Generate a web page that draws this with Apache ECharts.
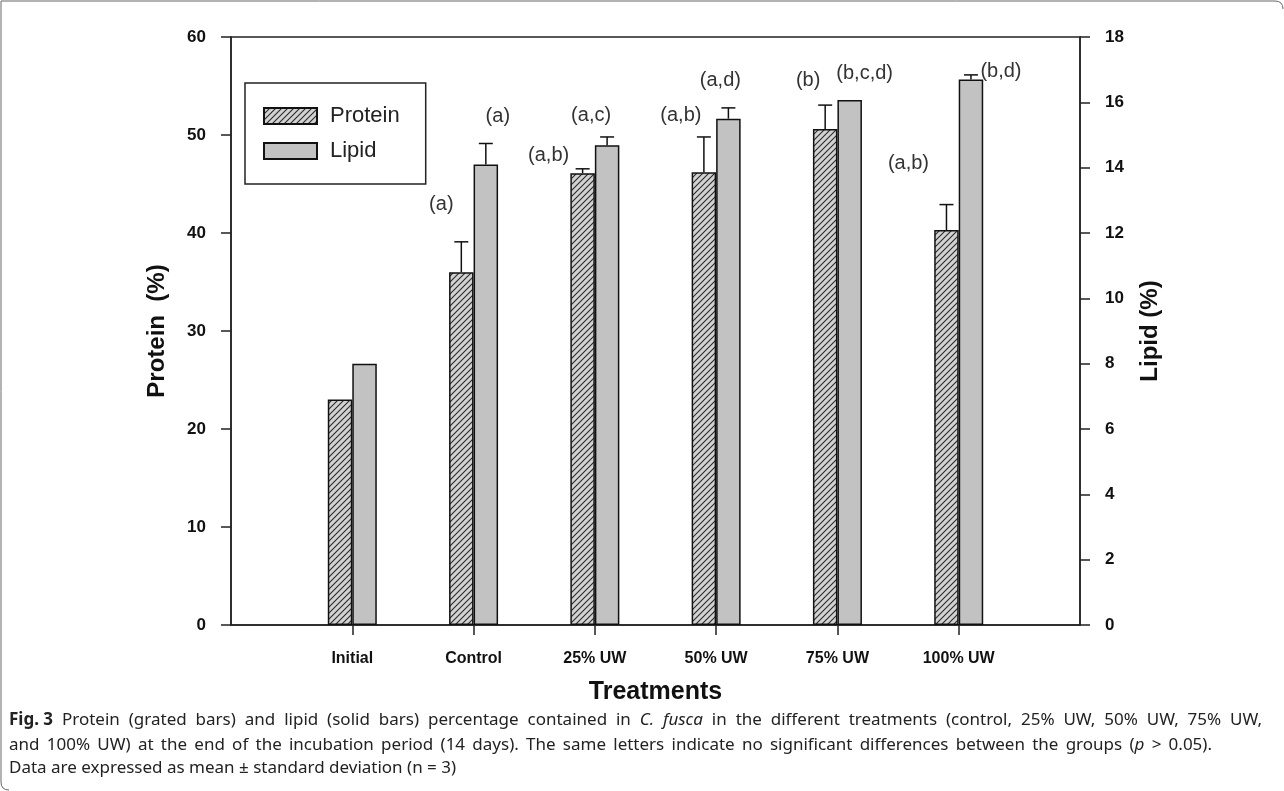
<!DOCTYPE html>
<html>
<head>
<meta charset="utf-8">
<script src="https://cdn.jsdelivr.net/npm/echarts@6/dist/echarts.min.js"></script>
<style>
html,body{margin:0;padding:0;background:#fff;}
#chart{width:1284px;height:791px;}
</style>
</head>
<body>
<div id="chart"></div>
<script>
// ---------------- data ----------------
const categories = ['Initial', 'Control', '25% UW', '50% UW', '75% UW', '100% UW'];
const protein    = [23.0, 36.0, 46.1, 46.2, 50.6, 40.3];
const proteinSD  = [0, 3.1, 0.45, 3.6, 2.45, 2.6];
const lipid      = [8.0, 14.1, 14.69, 15.5, 16.07, 16.7];
const lipidSD    = [0, 0.64, 0.25, 0.33, 0, 0.14];
const proteinLetters = ['', '(a)', '(a,b)', '(a,b)', '(b)', '(a,b)'];
const lipidLetters   = ['', '(a)', '(a,c)', '(a,d)', '(b,c,d)', '(b,d)'];
const leftAxis  = { min: 0, max: 60, interval: 10 };
const rightAxis = { min: 0, max: 18, interval: 2 };

// caption words: each word is a list of [style, text] parts (n normal, b bold, i italic)
const captionLines = [
  [[['b', 'Fig.\u00a03']], [['n', 'Protein']], [['n', '(grated']], [['n', 'bars)']], [['n', 'and']], [['n', 'lipid']], [['n', '(solid']], [['n', 'bars)']],
   [['n', 'percentage']], [['n', 'contained']], [['n', 'in']], [['i', 'C.']], [['i', 'fusca']], [['n', 'in']], [['n', 'the']], [['n', 'different']],
   [['n', 'treatments']], [['n', '(control,']], [['n', '25%']], [['n', 'UW,']], [['n', '50%']], [['n', 'UW,']], [['n', '75%']], [['n', 'UW,']]],
  [[['n', 'and']], [['n', '100%']], [['n', 'UW)']], [['n', 'at']], [['n', 'the']], [['n', 'end']], [['n', 'of']], [['n', 'the']], [['n', 'incubation']],
   [['n', 'period']], [['n', '(14']], [['n', 'days).']], [['n', 'The']], [['n', 'same']], [['n', 'letters']], [['n', 'indicate']], [['n', 'no']],
   [['n', 'significant']], [['n', 'differences']], [['n', 'between']], [['n', 'the']], [['n', 'groups']], [['n', '('], ['i', 'p']], [['n', '>']], [['n', '0.05).']]],
  [[['n', 'Data']], [['n', 'are']], [['n', 'expressed']], [['n', 'as']], [['n', 'mean']], [['n', '\u00b1']], [['n', 'standard']], [['n', 'deviation']],
   [['n', '(n']], [['n', '=']], [['n', '3)']]]
];

// ---------------- layout / style ----------------
const BAR_W = 24.5;
const CAP = 7;
// letter label offsets (px) relative to bar centre / error-bar top
const protLabelOff = [[0,0], [-20,-37], [-34,-13], [-23,-21], [-17,-25], [-38,-41]];
const lipLabelOff  = [[0,0], [12,-27], [-16,-21], [-8,-27], [15,-27], [30,-3]];
const capLineY = [720, 745, 768];
const capLineRight = [1262, 1212, null];

function hatchPattern() {
  const s = 6;
  const c = document.createElement('canvas');
  c.width = s; c.height = s;
  const g = c.getContext('2d');
  g.fillStyle = '#d2d2d2';
  g.fillRect(0, 0, s, s);
  g.strokeStyle = '#2a2a2a';
  g.lineWidth = 1.1;
  g.beginPath();
  g.moveTo(0, s); g.lineTo(s, 0);
  g.moveTo(-1, 1); g.lineTo(1, -1);
  g.moveTo(s - 1, s + 1); g.lineTo(s + 1, s - 1);
  g.stroke();
  return c;
}

const xData = [''].concat(categories, ['']);
const pad = arr => ['-'].concat(arr, ['-']);

function errRender(offset) {
  return function (params, api) {
    const x = api.value(0), v = api.value(1), sd = api.value(2);
    if (!sd) return null;
    const p0 = api.coord([x, v]);
    const p1 = api.coord([x, v + sd]);
    const cx = p0[0] + offset;
    return {
      type: 'group',
      children: [
        { type: 'line', shape: { x1: cx, y1: p0[1], x2: cx, y2: p1[1] }, style: { stroke: '#111', lineWidth: 1.5 } },
        { type: 'line', shape: { x1: cx - CAP, y1: p1[1], x2: cx + CAP, y2: p1[1] }, style: { stroke: '#111', lineWidth: 1.5 } }
      ]
    };
  };
}

function letterRender(offset, letters, offs) {
  return function (params, api) {
    const i = params.dataIndex;
    const x = api.value(0), v = api.value(1), sd = api.value(2);
    const txt = letters[i];
    if (!txt) return null;
    const p = api.coord([x, v + sd]);
    return {
      type: 'text',
      x: p[0] + offset + offs[i][0],
      y: p[1] + offs[i][1],
      style: {
        text: txt, fill: '#333', fontSize: 20, fontFamily: 'Liberation Sans, Arial, sans-serif',
        align: 'center', verticalAlign: 'middle'
      }
    };
  };
}

const protErr = categories.map((c, i) => [i + 1, protein[i], proteinSD[i]]);
const lipErr  = categories.map((c, i) => [i + 1, lipid[i], lipidSD[i]]);

const FONT = 'Liberation Sans, Arial, sans-serif';
const CAP_FAMILY = '"Noto Sans", "Open Sans", sans-serif';
const CAP_SIZE = 17;
const capFonts = {
  n: CAP_SIZE + 'px ' + CAP_FAMILY,
  b: 'bold ' + CAP_SIZE + 'px ' + CAP_FAMILY,
  i: 'italic ' + CAP_SIZE + 'px ' + CAP_FAMILY
};
const measureCtx = document.createElement('canvas').getContext('2d');
function textW(font, t) { measureCtx.font = font; return measureCtx.measureText(t).width; }

function captionGraphics() {
  const out = [];
  captionLines.forEach((words, li) => {
    const widths = words.map(w => w.reduce((s, p) => s + textW(capFonts[p[0]], p[1]), 0));
    const space = textW(capFonts.n, ' ');
    const natural = widths.reduce((a, b) => a + b, 0) + space * (words.length - 1);
    let gap = space;
    if (capLineRight[li]) gap = Math.max(space, space + (capLineRight[li] - 9 - natural) / (words.length - 1));
    let x = 9;
    words.forEach((w) => {
      w.forEach(p => {
        out.push({ type: 'text', x: x, y: capLineY[li], silent: true,
          style: { text: p[1], font: capFonts[p[0]], fill: '#222', verticalAlign: 'middle', align: 'left' } });
        x += textW(capFonts[p[0]], p[1]);
      });
      x += gap;
    });
  });
  return out;
}

const chart = echarts.init(document.getElementById('chart'));
const frameStyle = { stroke: '#666', lineWidth: 1, fill: null };

chart.setOption({
  animation: false,
  backgroundColor: '#fff',
  grid: { left: 231, right: 204, top: 37, bottom: 166, show: true, borderColor: '#222', borderWidth: 1.5, backgroundColor: 'transparent' },
  legend: {
    orient: 'vertical', left: 245, top: 83, icon: 'rect',
    itemWidth: 53, itemHeight: 16, itemGap: 13,
    padding: [22, 26, 22, 18],
    borderColor: '#222', borderWidth: 1.5,
    textStyle: { fontSize: 22, fontFamily: FONT, color: '#222', padding: [0, 0, 0, 8] },
    data: ['Protein', 'Lipid']
  },
  xAxis: {
    type: 'category', data: xData, boundaryGap: false,
    name: 'Treatments', nameLocation: 'middle', nameGap: 55,
    nameTextStyle: { fontSize: 25, fontWeight: 'bold', fontFamily: FONT, color: '#111' },
    axisLine: { lineStyle: { color: '#222', width: 1.5 } },
    axisTick: { show: true, length: 10, lineStyle: { color: '#222', width: 1.5 }, interval: (i) => i > 0 && i < xData.length - 1 },
    axisLabel: { fontSize: 16, fontWeight: 'bold', fontFamily: FONT, color: '#111', margin: 26, interval: 0 },
    splitLine: { show: false }
  },
  yAxis: [
    {
      type: 'value', min: leftAxis.min, max: leftAxis.max, interval: leftAxis.interval,
      name: 'Protein  (%)', nameLocation: 'middle', nameGap: 62, nameRotate: 90,
      nameTextStyle: { fontSize: 24, fontWeight: 'bold', fontFamily: FONT, color: '#111' },
      axisLine: { show: true, lineStyle: { color: '#222', width: 1.5 } },
      axisTick: { show: true, length: 10, lineStyle: { color: '#222', width: 1.5 } },
      axisLabel: { fontSize: 17, fontWeight: 'bold', fontFamily: FONT, color: '#111', margin: 25 },
      splitLine: { show: false }
    },
    {
      type: 'value', min: rightAxis.min, max: rightAxis.max, interval: rightAxis.interval,
      position: 'right',
      name: 'Lipid (%)', nameLocation: 'middle', nameGap: 58, nameRotate: 90,
      nameTextStyle: { fontSize: 24, fontWeight: 'bold', fontFamily: FONT, color: '#111' },
      axisLine: { show: true, lineStyle: { color: '#222', width: 1.5 } },
      axisTick: { show: true, length: 10, lineStyle: { color: '#222', width: 1.5 } },
      axisLabel: { fontSize: 17, fontWeight: 'bold', fontFamily: FONT, color: '#111', margin: 25 },
      splitLine: { show: false }
    }
  ],
  series: [
    {
      name: 'Protein', type: 'bar', yAxisIndex: 0, data: pad(protein),
      barWidth: BAR_W, barGap: '0%',
      itemStyle: { color: { image: hatchPattern(), repeat: 'repeat' }, borderColor: '#111', borderWidth: 1.5 }
    },
    {
      name: 'Lipid', type: 'bar', yAxisIndex: 1, data: pad(lipid),
      barWidth: BAR_W, barGap: '0%',
      itemStyle: { color: '#c2c2c2', borderColor: '#111', borderWidth: 1.5 }
    },
    { type: 'custom', yAxisIndex: 0, data: protErr, renderItem: errRender(-BAR_W / 2), z: 5, silent: true },
    { type: 'custom', yAxisIndex: 1, data: lipErr, renderItem: errRender(BAR_W / 2), z: 5, silent: true },
    { type: 'custom', yAxisIndex: 0, data: protErr, renderItem: letterRender(-BAR_W / 2, proteinLetters, protLabelOff), z: 6, silent: true },
    { type: 'custom', yAxisIndex: 1, data: lipErr, renderItem: letterRender(BAR_W / 2, lipidLetters, lipLabelOff), z: 6, silent: true }
  ],
  graphic: [
    { type: 'polyline', silent: true, shape: { points: [[1, 782], [1, 1], [1275, 1]] }, style: frameStyle },
    { type: 'bezierCurve', silent: true, shape: { x1: 1, y1: 782, cpx1: 1, cpy1: 790, x2: 9, y2: 790 }, style: frameStyle },
    { type: 'bezierCurve', silent: true, shape: { x1: 1275, y1: 1, cpx1: 1283, cpy1: 1, x2: 1283, y2: 9 }, style: frameStyle }
  ].concat(captionGraphics())
});
</script>
</body>
</html>
